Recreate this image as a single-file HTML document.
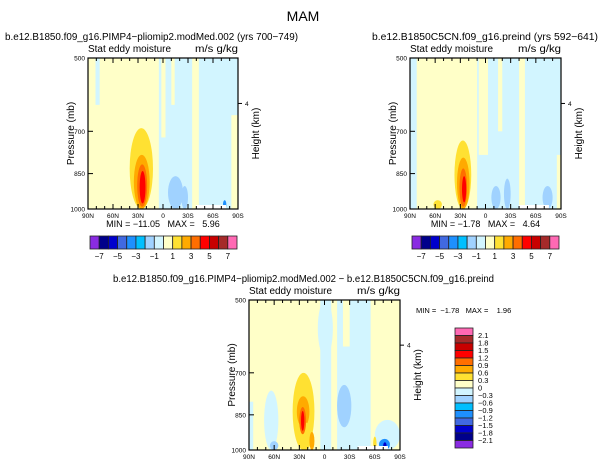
<!DOCTYPE html>
<html><head><meta charset="utf-8">
<style>
html,body{margin:0;padding:0;background:#fff;}
svg{display:block;font-family:"Liberation Sans",sans-serif;}
text{white-space:pre;}
</style></head>
<body>
<svg id="chart" width="607" height="468" viewBox="0 0 607 468" xmlns="http://www.w3.org/2000/svg">
<text x="303" y="21" font-size="14" text-anchor="middle">MAM</text>
</svg>
<script>
// ---- data ----
const levelColors = ["#8a2be2","#00008b","#0000cd","#4169e1","#1e90ff","#00bfff","#a0d2ff","#d2f5ff","#ffffc8","#ffe132","#ffaa00","#ff6e00","#ff0000","#c80000","#a52a2a","#ff69b4"];
const topBarLabels = ["-7","-5","-3","-1","1","3","5","7"];
const diffBarLabels = ["2.1","1.8","1.5","1.2","0.9","0.6","0.3","0","-0.3","-0.6","-0.9","-1.2","-1.5","-1.8","-2.1"];
const latTicks = [90,60,30,0,-30,-60,-90];
const latTickLabels = ["90N","60N","30N","0","30S","60S","90S"];
const presTicks = [500,700,850,1000];
// features: [shape, lat1, lat2, p1, p2, level]
const panel1Features = [
 ["r",5,-90,500,1000,7],["r",-35,-43,500,1000,8],["r",-82,-90,650,1000,8],
 ["r",81,76,500,620,7],["r",2,-3,500,720,8],["r",-10,-14,500,620,8],
 ["e",40,12,690,1000,9],["e",35,16,780,1000,10],["e",31,19,815,990,11],["e",28,21,840,975,12],
 ["e",-6,-24,860,1000,6],["e",-22,-30,900,1000,6],["e",-72,-76,960,1000,4]];
const panel2Features = [
 ["r",90,82,500,1000,7],["r",10,-90,500,1000,7],["r",-40,-47,500,1000,8],["r",8,-3,500,780,8],
 ["r",-85,-90,780,1000,8],["r",-15,-20,500,700,8],["e",62,52,960,1000,9],
 ["e",37,17,730,1000,9],["e",34,19,790,1000,10],["e",31,22,830,990,11],["e",28,23,860,970,12],
 ["e",-7,-18,900,1000,6],["e",-22,-30,870,1000,6],["e",-68,-80,900,1000,6]];
const panel3Features = [
 ["r",5,-8,500,1000,7],["r",-15,-55,500,1000,7],["r",-22,-30,500,620,8],
 ["r",90,85,800,1000,7],["e",72,55,760,1000,7],["e",8,-10,500,650,7],
 ["e",-15,-32,740,900,6],["e",-60,-90,870,1000,7],
 ["e",38,12,700,1000,9],["e",33,18,780,900,10],["e",32,15,880,1000,9],["e",30,22,820,930,11],["e",28,24,835,915,12],
 ["e",18,12,920,1000,10],["e",65,55,960,1000,6],["e",-65,-78,950,1000,4],["e",-70,-74,965,995,2],["e",-58,-62,940,1000,9]];
const panels = [
 {x:88,y:58,w:150,h:151,features:panel1Features,title:"b.e12.B1850.f09_g16.PIMP4\u2212pliomip2.modMed.002 (yrs 700\u2212749)",tx:5,tw:293,min:"\u221211.05",max:"5.96",name:"panel-pliomip"},
 {x:410,y:58,w:151,h:151,features:panel2Features,title:"b.e12.B1850C5CN.f09_g16.preind (yrs 592\u2212641)",tx:372,tw:226,min:"\u22121.78",max:"4.64",name:"panel-preind"},
 {x:249,y:300,w:151,h:150,features:panel3Features,title:"b.e12.B1850.f09_g16.PIMP4\u2212pliomip2.modMed.002 \u2212 b.e12.B1850C5CN.f09_g16.preind",tx:113,tw:381,min:"\u22121.78",max:"1.96",name:"panel-difference"}
];
// ---- drawing ----
const NS="http://www.w3.org/2000/svg";
const svg=document.getElementById('chart');
function mk(tag,attrs,parent){const e=document.createElementNS(NS,tag);for(const k in attrs)e.setAttribute(k,attrs[k]);(parent||svg).appendChild(e);return e;}
function xs(p,lat){return p.x+(90-lat)/180*p.w;}
function ys(p,pr){return p.y+(Math.log(pr)-Math.log(500))/(Math.log(1000)-Math.log(500))*p.h;}
panels.forEach((p,pi)=>{
 const g=mk('g',{});
 
 
 const cid='clip'+pi;
 const cp=mk('clipPath',{id:cid},g);mk('rect',{x:p.x,y:p.y,width:p.w,height:p.h},cp);
 const fg=mk('g',{'clip-path':'url(#'+cid+')'},g);
 const bg=mk('rect',{x:p.x,y:p.y,width:p.w,height:p.h,fill:levelColors[8]},fg);
 
 
 p.features.forEach(f=>{
  const xa=xs(p,f[1]),xb=xs(p,f[2]),ya=ys(p,f[3]),yb=ys(p,f[4]);
  const x1=Math.min(xa,xb),x2=Math.max(xa,xb),y1=Math.min(ya,yb),y2=Math.max(ya,yb);
  let el;
  if(f[0]==='r') el=mk('rect',{x:x1,y:y1,width:x2-x1,height:y2-y1,fill:levelColors[f[5]]},fg);
  else el=mk('ellipse',{cx:(x1+x2)/2,cy:(y1+y2)/2,rx:(x2-x1)/2,ry:(y2-y1)/2,fill:levelColors[f[5]]},fg);
  
  
 });
 mk('rect',{x:p.x+p.w*0.72,y:p.y+p.h-4,width:p.w*0.2,height:4,fill:'#fff'},fg);
 const fr=mk('rect',{x:p.x,y:p.y,width:p.w,height:p.h,fill:'none',stroke:'#000','stroke-width':1.2},g);
 
 
 latTicks.forEach((l,i)=>{
  const x=xs(p,l);
  mk('line',{x1:x,y1:p.y+p.h,x2:x,y2:p.y+p.h-5,stroke:'#000','stroke-width':1},g);
  mk('line',{x1:x,y1:p.y,x2:x,y2:p.y+5,stroke:'#000','stroke-width':1},g);
  const t=mk('text',{x:x,y:p.y+p.h+9,'font-size':6.5,'text-anchor':'middle'},g);t.textContent=latTickLabels[i];
  
  
 });
 for(let l=80;l>-90;l-=10){if(l%30===0)continue;const x=xs(p,l);
  mk('line',{x1:x,y1:p.y+p.h,x2:x,y2:p.y+p.h-3,stroke:'#000'},g);mk('line',{x1:x,y1:p.y,x2:x,y2:p.y+3,stroke:'#000'},g);}
 presTicks.forEach(pr=>{
  const y=ys(p,pr);
  mk('line',{x1:p.x,y1:y,x2:p.x+5,y2:y,stroke:'#000'},g);
  const t=mk('text',{x:p.x-3,y:y+2.5,'font-size':6.5,'text-anchor':'end'},g);t.textContent=pr;
  
  
 });
 const y4=ys(p,616);
 mk('line',{x1:p.x+p.w,y1:y4,x2:p.x+p.w+4,y2:y4,stroke:'#000'},g);
 let t=mk('text',{x:p.x+p.w+7,y:y4+2.5,'font-size':6.5},g);t.textContent='4';
 t=mk('text',{x:0,y:0,'font-size':10,'text-anchor':'middle',transform:`translate(${p.x-14},${p.y+p.h/2}) rotate(-90)`},g);t.textContent='Pressure (mb)';
 
 
 t=mk('text',{x:0,y:0,'font-size':10,'text-anchor':'middle',transform:`translate(${p.x+p.w+21},${p.y+p.h/2}) rotate(-90)`},g);t.textContent='Height (km)';
 
 
 t=mk('text',{x:p.tx,y:p.y-18,'font-size':10,textLength:p.tw,lengthAdjust:'spacingAndGlyphs'},g);t.textContent=p.title;
 
 
 t=mk('text',{x:p.x,y:p.y-6,'font-size':10,textLength:83,lengthAdjust:'spacingAndGlyphs'},g);t.textContent='Stat eddy moisture';
 
 
 t=mk('text',{x:p.x+p.w-43,y:p.y-6,'font-size':10,textLength:43,lengthAdjust:'spacingAndGlyphs'},g);t.textContent='m/s g/kg';
 
 
 if(pi<2){
  t=mk('text',{x:p.x+p.w/2,y:p.y+p.h+18,'font-size':9,'text-anchor':'middle'},g);t.textContent='MIN = '+p.min+'   MAX =   '+p.max;
  
  
  const cb=mk('g',{},g);
  
  
  const bx=p.x+2,bw=147/16;
  levelColors.forEach((c,i)=>{const r=mk('rect',{x:bx+i*bw,y:236,width:bw,height:13,fill:c,stroke:'#222','stroke-width':0.8},cb);
   
   });
  topBarLabels.forEach((s,i)=>{const tt=mk('text',{x:bx+(1+2*i)*bw,y:259,'font-size':8,'text-anchor':'middle'},cb);tt.textContent=s.replace('-','\u2212');
   
   });
 } else {
  t=mk('text',{x:416,y:313,'font-size':7.5},g);t.textContent='MIN =  '+p.min+'   MAX =    '+p.max;
  
  
  const cb=mk('g',{},g);
  
  
  const by=328,bh=120/16;
  levelColors.slice().reverse().forEach((c,i)=>{const r=mk('rect',{x:455,y:by+i*bh,width:18,height:bh,fill:c,stroke:'#222','stroke-width':0.8},cb);
   
   });
  diffBarLabels.forEach((s,i)=>{const tt=mk('text',{x:478,y:by+(i+1)*bh+2.5,'font-size':7.5},cb);tt.textContent=s.replace('-','\u2212');
   
   });
 }
});
</script>
</body></html>
